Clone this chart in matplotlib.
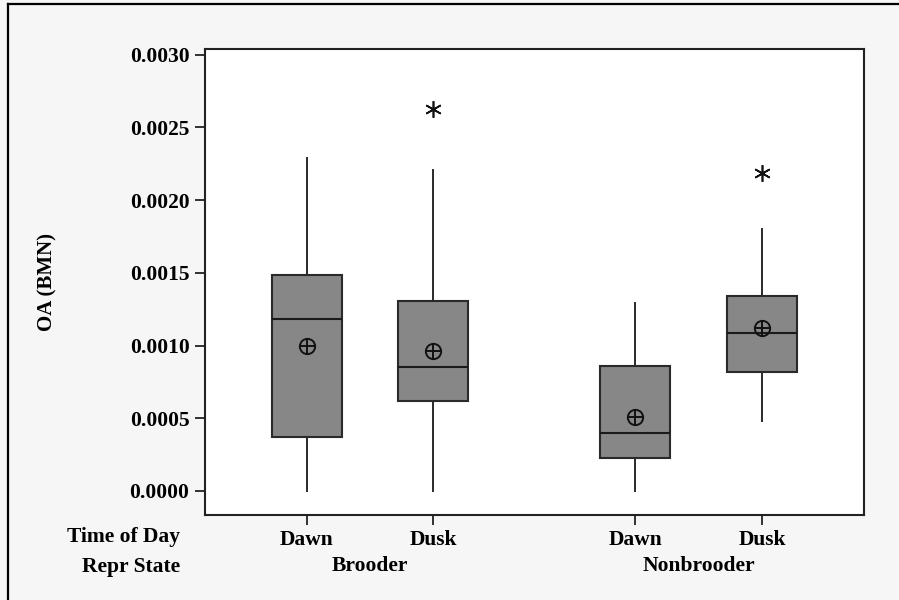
import matplotlib
matplotlib.use("Agg")
import matplotlib.pyplot as plt
from matplotlib.lines import Line2D

# ---- data ----
time_of_day = ["Dawn", "Dusk", "Dawn", "Dusk"]
repr_state = ["Brooder", "Nonbrooder"]
whisker_low = [0.0, 0.0, 0.0, 0.000483]
q1 = [0.000371, 0.000621, 0.000225, 0.000816]
median = [0.001183, 0.000853, 0.000397, 0.001086]
q3 = [0.001485, 0.001306, 0.000862, 0.001343]
whisker_high = [0.002288, 0.002207, 0.001291, 0.0018]
means = [0.000997, 0.000963, 0.000511, 0.001123]
outliers = [[], [0.002625], [], [0.002185]]
y_ticks = [0.0, 0.0005, 0.0010, 0.0015, 0.0020, 0.0025, 0.0030]

# ---- layout ----
positions = [1, 2, 3.6, 4.6]
font = ["Liberation Serif", "DejaVu Serif"]
plt.rcParams["font.family"] = font
plt.rcParams["font.weight"] = "bold"
FS = 15.5

fig = plt.figure(figsize=(8.99, 6.0), dpi=100)
fig.patch.set_facecolor("#f6f6f6")
ax = fig.add_axes([0.2277, 0.1422, 0.9611 - 0.2277, 0.919 - 0.1422])
ax.set_facecolor("white")

stats = []
for i in range(4):
    stats.append(dict(whislo=whisker_low[i], q1=q1[i], med=median[i], q3=q3[i],
                      whishi=whisker_high[i], fliers=outliers[i], mean=means[i]))

ax.bxp(stats, positions=positions, widths=0.553, patch_artist=True,
       showcaps=False, showfliers=True, showmeans=False,
       boxprops=dict(facecolor="#878787", edgecolor="#2a2a2a", linewidth=1.5),
       medianprops=dict(color="#1a1a1a", linewidth=1.5),
       whiskerprops=dict(color="#2a2a2a", linewidth=1.4),
       flierprops=dict(marker=(6, 2, 0), markersize=12, markeredgecolor="#111111",
                       markerfacecolor="#111111", markeredgewidth=1.2, linestyle="none"))

# mean symbols: circle with cross
ax.plot(positions, means, linestyle="none", marker="o", markersize=11,
        markerfacecolor="none", markeredgecolor="#111111", markeredgewidth=1.4, zorder=5)
ax.plot(positions, means, linestyle="none", marker="+", markersize=11,
        markeredgecolor="#111111", markeredgewidth=1.4, zorder=5)

ax.set_xlim(0.195, 5.407)
ax.set_ylim(-0.000163, 0.003042)
ax.set_yticks(y_ticks)
ax.set_yticklabels([f"{v:.4f}" for v in y_ticks], fontsize=FS, fontweight="bold")
ax.set_xticks(positions)
ax.set_xticklabels(time_of_day, fontsize=FS, fontweight="bold")
ax.tick_params(axis="both", direction="out", length=7, width=1.3, color="#222222")
ax.tick_params(axis="x", pad=4)
ax.tick_params(axis="y", pad=4)
for s in ax.spines.values():
    s.set_linewidth(1.5)
    s.set_color("#222222")

ax.set_ylabel("OA (BMN)", fontsize=15, fontweight="bold")
ax.yaxis.set_label_coords(-0.223, 0.5)

# grouping row
trans = ax.get_xaxis_transform()
ax.text((positions[0] + positions[1]) / 2, -0.111, repr_state[0], transform=trans,
        ha="center", va="center", fontsize=FS, fontweight="bold")
ax.text((positions[2] + positions[3]) / 2, -0.111, repr_state[1], transform=trans,
        ha="center", va="center", fontsize=FS, fontweight="bold")
fig.text(180 / 899, 1 - 537 / 600, "Time of Day", ha="right", va="center",
         fontsize=FS, fontweight="bold")
fig.text(180 / 899, 1 - 567 / 600, "Repr State", ha="right", va="center",
         fontsize=FS, fontweight="bold")

# outer frame (left and top)
fig.add_artist(Line2D([7.5 / 899, 7.5 / 899], [0, 1 - 3.5 / 600], transform=fig.transFigure,
                      color="black", linewidth=1.6))
fig.add_artist(Line2D([7.5 / 899, 1], [1 - 3.5 / 600, 1 - 3.5 / 600], transform=fig.transFigure,
                      color="black", linewidth=1.6))

fig.savefig("out.png", dpi=100, facecolor=fig.get_facecolor())
